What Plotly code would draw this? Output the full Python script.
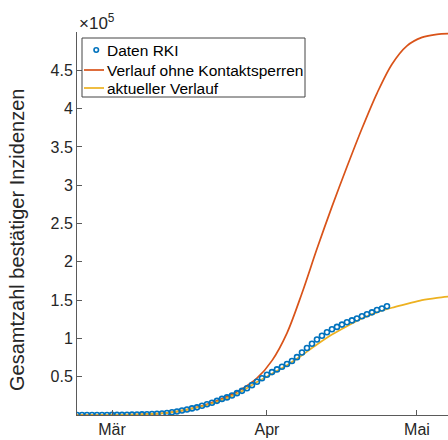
import pandas as pd
import plotly.graph_objects as go

# ---- data ----
rki_start = "2020-02-23"
rki_cases = [16, 16, 18, 27, 46, 60, 79,
             130, 159, 196, 262, 482, 670, 800, 1040, 1220, 1560, 2000, 2700, 3600, 4600,
             5800, 7200, 8600, 10000, 12000, 14000, 16000, 18500, 21000, 23000, 25500,
             28500, 31500, 35000, 39000, 43500, 48000,
             52500, 56000, 59500, 63000, 66500, 70500, 75500, 81500, 87500, 93000,
             98500, 103500, 108000, 112000, 115000, 118000, 121000, 123500, 126000,
             129000, 131500, 134000, 137000, 139000, 142000]
rki_dates = pd.date_range(rki_start, periods=len(rki_cases), freq="D")

model_dates = ["2020-02-23", "2020-03-01", "2020-03-07", "2020-03-12", "2020-03-16",
               "2020-03-20", "2020-03-24", "2020-03-27", "2020-03-30", "2020-04-02",
               "2020-04-05", "2020-04-08", "2020-04-11", "2020-04-14", "2020-04-17",
               "2020-04-20", "2020-04-23", "2020-04-26", "2020-04-29", "2020-05-02",
               "2020-05-05", "2020-05-08"]
no_lockdown = [0, 200, 800, 2700, 7000, 14000, 24000, 34000, 48000, 71000,
               107000, 159000, 217000, 272000, 324000, 374000, 420000, 458000,
               482000, 493000, 497000, 498000]
current = [0, 200, 800, 2700, 7000, 13000, 22000, 31000, 43000, 54000,
           65000, 78000, 92000, 105000, 116000, 126000, 134000, 140000,
           145000, 150000, 153000, 155000]

y_tickvals = [50000, 100000, 150000, 200000, 250000, 300000, 350000, 400000, 450000]
y_ticktext = ["0.5", "1", "1.5", "2", "2.5", "3", "3.5", "4", "4.5"]
x_tickvals = ["2020-03-01", "2020-04-01", "2020-05-01"]
x_ticktext = ["Mär", "Apr", "Mai"]
legend_labels = ["Daten RKI", "Verlauf ohne Kontaktsperren", "aktueller Verlauf"]

FONT = "Liberation Sans, Arial, Helvetica, sans-serif"
TXT = "#262626"
AX = "#5a5a5a"
BLUE, RED, YEL = "#0072BD", "#D95319", "#EDB120"

W, H = 448, 440
ML, MR, MT, MB = 77, 0, 32, 25
PW, PH = W - ML - MR, H - MT - MB


def px(x):
    return (x - ML) / PW


def py(y):
    return 1 - (y - MT) / PH


fig = go.Figure()
fig.add_trace(go.Scatter(x=model_dates, y=no_lockdown, mode="lines",
                         name=legend_labels[1],
                         line=dict(color=RED, width=1.7, shape="spline", smoothing=0.9)))
fig.add_trace(go.Scatter(x=model_dates, y=current, mode="lines",
                         name=legend_labels[2],
                         line=dict(color=YEL, width=1.7, shape="spline", smoothing=0.9)))
fig.add_trace(go.Scatter(x=rki_dates, y=rki_cases, mode="markers",
                         name=legend_labels[0],
                         marker=dict(symbol="circle-open", size=5, color=BLUE,
                                     line=dict(width=1.6, color=BLUE))))

# legend drawn as a MATLAB-style box
lx0, lx1, ly0, ly1 = 82, 305, 38, 97
rows = [50, 70, 88]
shapes = [
    dict(type="rect", xref="paper", yref="paper", x0=px(lx0), x1=px(lx1),
         y0=py(ly1), y1=py(ly0), line=dict(color="#444", width=1), fillcolor="white",
         layer="above"),
    dict(type="circle", xref="paper", yref="paper", x0=px(94), x1=px(98.5),
         y0=py(rows[0] + 2.25), y1=py(rows[0] - 2.25), line=dict(color=BLUE, width=1.6),
         layer="above"),
    dict(type="line", xref="paper", yref="paper", x0=px(84), x1=px(104),
         y0=py(rows[1]), y1=py(rows[1]), line=dict(color=RED, width=1.7), layer="above"),
    dict(type="line", xref="paper", yref="paper", x0=px(84), x1=px(104),
         y0=py(rows[2]), y1=py(rows[2]), line=dict(color=YEL, width=1.7), layer="above"),
]
annotations = [
    dict(text=lab, xref="paper", yref="paper", x=px(104.5), y=py(r), xanchor="left",
         yanchor="middle", showarrow=False, font=dict(size=15.5, color="black", family=FONT))
    for lab, r in zip(legend_labels, rows)
]
annotations += [
    dict(text="×10<sup>5</sup>", xref="paper", yref="paper", x=0.0, y=1.0,
         xanchor="left", yanchor="bottom", showarrow=False,
         font=dict(size=17, color=TXT, family=FONT), yshift=-3),
    dict(text="Gesamtzahl bestätiger Inzidenzen", xref="paper", yref="paper",
         x=px(17), y=py(240), xanchor="center", yanchor="middle", textangle=-90,
         showarrow=False, font=dict(size=20, color=TXT, family=FONT)),
]

fig.update_layout(
    width=W, height=H,
    margin=dict(l=ML, r=MR, t=MT, b=MB),
    paper_bgcolor="white", plot_bgcolor="white",
    font=dict(family=FONT, size=16, color=TXT),
    showlegend=False,
    xaxis=dict(range=["2020-02-23", "2020-05-07 05:00"], tickvals=x_tickvals,
               ticktext=x_ticktext, showgrid=False, zeroline=False,
               showline=True, linecolor=AX, linewidth=1,
               ticks="inside", ticklen=5, tickcolor=AX,
               tickfont=dict(size=16, color=TXT, family=FONT)),
    yaxis=dict(range=[0, 500000], tickvals=y_tickvals, ticktext=y_ticktext,
               showgrid=False, zeroline=False, showline=True, linecolor=AX, linewidth=1,
               ticks="inside", ticklen=5, tickcolor=AX,
               tickfont=dict(size=16, color=TXT, family=FONT)),
    shapes=shapes,
    annotations=annotations,
)

fig.write_html("out.html")
